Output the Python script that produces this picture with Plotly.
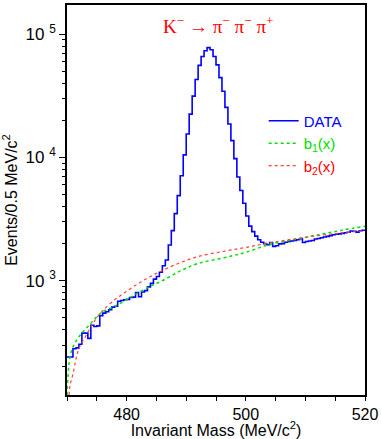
import numpy as np
import plotly.graph_objects as go

# Histogram: events per 0.5 MeV bin, 470 -> 520 MeV (100 bins)
bin_lo, bin_hi, bin_w = 470.0, 520.0, 0.5
data_counts = [
    240, 240, 280, 285, 305, 375, 375, 340, 435, 425,
    430, 520, 545, 560, 580, 610, 620, 680, 690, 700,
    705, 730, 735, 800, 740, 810, 830, 890, 950, 1030,
    1080, 1170, 1320, 1470, 1950, 2550, 3500, 4900, 7100, 10500,
    15500, 22500, 31500, 43000, 56000, 66000, 73500, 78000, 75000, 66000,
    56500, 44500, 34500, 25500, 18700, 13700, 9800, 6950, 5400, 4250,
    3350, 2770, 2500, 2300, 2150, 2050, 2000, 1960, 2040, 1900,
    1920, 1990, 2000, 2050, 2080, 2100, 2120, 2150, 2190, 2040,
    2080, 2100, 2120, 2180, 2200, 2230, 2260, 2290, 2320, 2360,
    2380, 2400, 2420, 2450, 2470, 2530, 2520, 2480, 2540, 2570,
]

# background shapes
b1_mass = [470.0, 470.25, 470.5, 471, 472, 473, 474, 475, 476, 478, 480, 482,
           484, 486, 489, 492, 496.5, 500, 504, 508, 512, 516, 520]
b1_vals = [118, 190, 240, 290, 350, 400, 450, 510, 560, 620, 700, 800,
           900, 1000, 1200, 1380, 1540, 1700, 1970, 2150, 2350, 2560, 2770]

b2_mass = [470.35, 470.5, 471, 471.5, 472, 473, 474, 475, 476, 478, 480, 482,
           484, 486, 489, 492, 496.5, 500, 504, 508, 512, 516, 520]
b2_vals = [118, 140, 175, 230, 280, 345, 420, 500, 570, 700, 820, 950,
           1080, 1210, 1400, 1570, 1740, 1860, 2030, 2180, 2320, 2440, 2550]

x_tick_vals = [470, 475, 480, 485, 490, 495, 500, 505, 510, 515, 520]
x_tick_text = ["", "", "480", "", "", "", "500", "", "", "", "520"]
y_tick_vals = [1e3, 1e4, 1e5]
y_tick_text = ["10 <sup>3</sup>", "10 <sup>4</sup>", "10 <sup>5</sup>"]

edges = np.arange(bin_lo, bin_hi + bin_w / 2, bin_w)
steps_y = data_counts + [data_counts[-1]]

minor_y = [m * 10 ** e for e in (2, 3, 4, 5) for m in range(2, 10)]

fig = go.Figure()
fig.add_trace(go.Scatter(
    x=edges, y=steps_y, mode="lines", line_shape="hv",
    line=dict(color="#0000ff", width=1.6),
    name='<span style="color:#0000ff">DATA</span>'
))
fig.add_trace(go.Scatter(
    x=b1_mass, y=b1_vals, mode="lines", line_shape="spline",
    line=dict(color="#00e000", width=1.5, dash="dot"),
    name='<span style="color:#00dd00">b<sub>1</sub>(x)</span>'
))
fig.add_trace(go.Scatter(
    x=b2_mass, y=b2_vals, mode="lines", line_shape="spline",
    line=dict(color="#ff4040", width=1.2, dash="dot"),
    name='<span style="color:#ff0000">b<sub>2</sub>(x)</span>'
))

fig.add_annotation(
    text="K<sup>−</sup> → π<sup>−</sup> π<sup>−</sup> π<sup>+</sup>",
    xref="paper", yref="paper", x=0.51, y=0.985, xanchor="center", yanchor="top",
    showarrow=False, font=dict(family="Liberation Serif", size=19, color="#ff0000")
)

fig.update_layout(
    width=382, height=439,
    margin=dict(l=67, r=17, t=3, b=42),
    paper_bgcolor="white", plot_bgcolor="white",
    font=dict(family="Liberation Sans", color="black"),
    showlegend=True,
    legend=dict(x=0.66, y=0.745, xanchor="left", yanchor="top",
                bgcolor="rgba(0,0,0,0)", font=dict(size=15), tracegroupgap=0,
                itemwidth=30),
    xaxis=dict(
        range=[470, 520], tickmode="array", tickvals=x_tick_vals, ticktext=x_tick_text,
        ticks="outside", ticklen=4, tickcolor="black", showgrid=False, zeroline=False,
        showline=True, mirror=True, linecolor="black", linewidth=1.5,
        tickfont=dict(size=16),
        title=dict(text="Invariant Mass (MeV/c<sup>2</sup>)", font=dict(size=16), standoff=2),
    ),
    yaxis=dict(
        type="log", range=[np.log10(118), np.log10(173000)],
        tickmode="array", tickvals=y_tick_vals, ticktext=y_tick_text,
        ticks="outside", ticklen=6, tickcolor="black", showgrid=False, zeroline=False,
        showline=True, mirror=True, linecolor="black", linewidth=1.5,
        tickfont=dict(size=17),
        minor=dict(tickmode="array", tickvals=minor_y, ticks="outside", ticklen=3,
                   tickcolor="black", showgrid=False),
        title=dict(text="Events/0.5 MeV/c<sup>2</sup>", font=dict(size=16), standoff=6),
    ),
)

# drop the page's default body margin so the figure sits at the window origin
fig.write_html("out.html", config={"displayModeBar": False},
               post_script="document.body.style.margin='0';document.body.style.padding='0';")
